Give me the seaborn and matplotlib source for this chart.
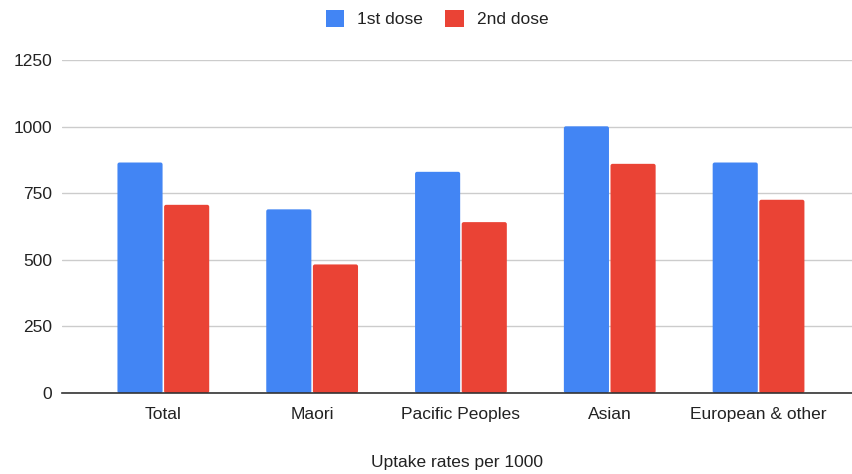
import matplotlib
matplotlib.use("Agg")
import matplotlib.pyplot as plt
from matplotlib.patches import FancyBboxPatch, Patch
import seaborn as sns
import pandas as pd

# Vaccine uptake per 1000 people, by ethnic group
groups = ["Total", "Maori", "Pacific Peoples", "Asian", "European & other"]
first_dose = [866, 690, 831, 1002, 866]
second_dose = [707, 483, 642, 861, 726]
series_names = ["1st dose", "2nd dose"]
y_ticks = [0, 250, 500, 750, 1000, 1250]

colors = {"1st dose": "#4285F4", "2nd dose": "#EA4335"}

df = pd.DataFrame({
    "group": groups * 2,
    "dose": [series_names[0]] * len(groups) + [series_names[1]] * len(groups),
    "rate": first_dose + second_dose,
})

sns.set_theme(style="white")
plt.rcParams["font.family"] = ["Liberation Sans", "DejaVu Sans"]

fs = 12.5
txt = "#222222"

fig = plt.figure(figsize=(8.52, 4.74), dpi=100)
ax = fig.add_axes([62 / 852, 81 / 474, 790 / 852, 332.7 / 474])

sns.barplot(data=df, x="group", y="rate", hue="dose", order=groups,
            hue_order=series_names, palette=colors, width=0.627, gap=0.033,
            saturation=1, legend=False, ax=ax)

# Swap plain rectangles for slightly rounded bars
bars = [p for p in ax.patches]
px_per_x = 148.8
px_per_y = 332.7 / 1250
for p in bars:
    x, y = p.get_x(), p.get_y()
    w, h = p.get_width(), p.get_height()
    fc = p.get_facecolor()
    p.remove()
    r = 2.0 / px_per_x
    fb = FancyBboxPatch((x, y), w, h,
                        boxstyle=f"round,pad=0,rounding_size={r}",
                        mutation_aspect=px_per_x / px_per_y,
                        facecolor=fc, edgecolor="none", zorder=2)
    ax.add_patch(fb)

ax.set_xlim(-0.681, 4.628)
ax.set_ylim(0, 1250)
ax.set_yticks(y_ticks)
ax.set_yticklabels([str(v) for v in y_ticks])
ax.grid(axis="y", color="#cccccc", linewidth=1)
ax.set_axisbelow(True)

for side in ["top", "right", "left"]:
    ax.spines[side].set_visible(False)
ax.spines["bottom"].set_color("#333333")
ax.spines["bottom"].set_linewidth(1.2)
ax.spines["bottom"].set_zorder(3)

ax.tick_params(axis="both", length=0, labelsize=fs, colors=txt)
ax.tick_params(axis="y", pad=7)
ax.tick_params(axis="x", pad=10)

ax.set_ylabel("")
ax.set_xlabel("Uptake rates per 1000", fontsize=fs, color=txt, labelpad=24)

handles = [Patch(facecolor=colors[s], edgecolor="none", label=s) for s in series_names]
fig.legend(handles=handles, loc="center", bbox_to_anchor=(0.513, 0.96), ncol=2,
           frameon=False, fontsize=fs, handlelength=1.05, handleheight=1.05,
           handletextpad=0.75, columnspacing=1.3, labelcolor=txt)

fig.savefig("out.png", dpi=100)
